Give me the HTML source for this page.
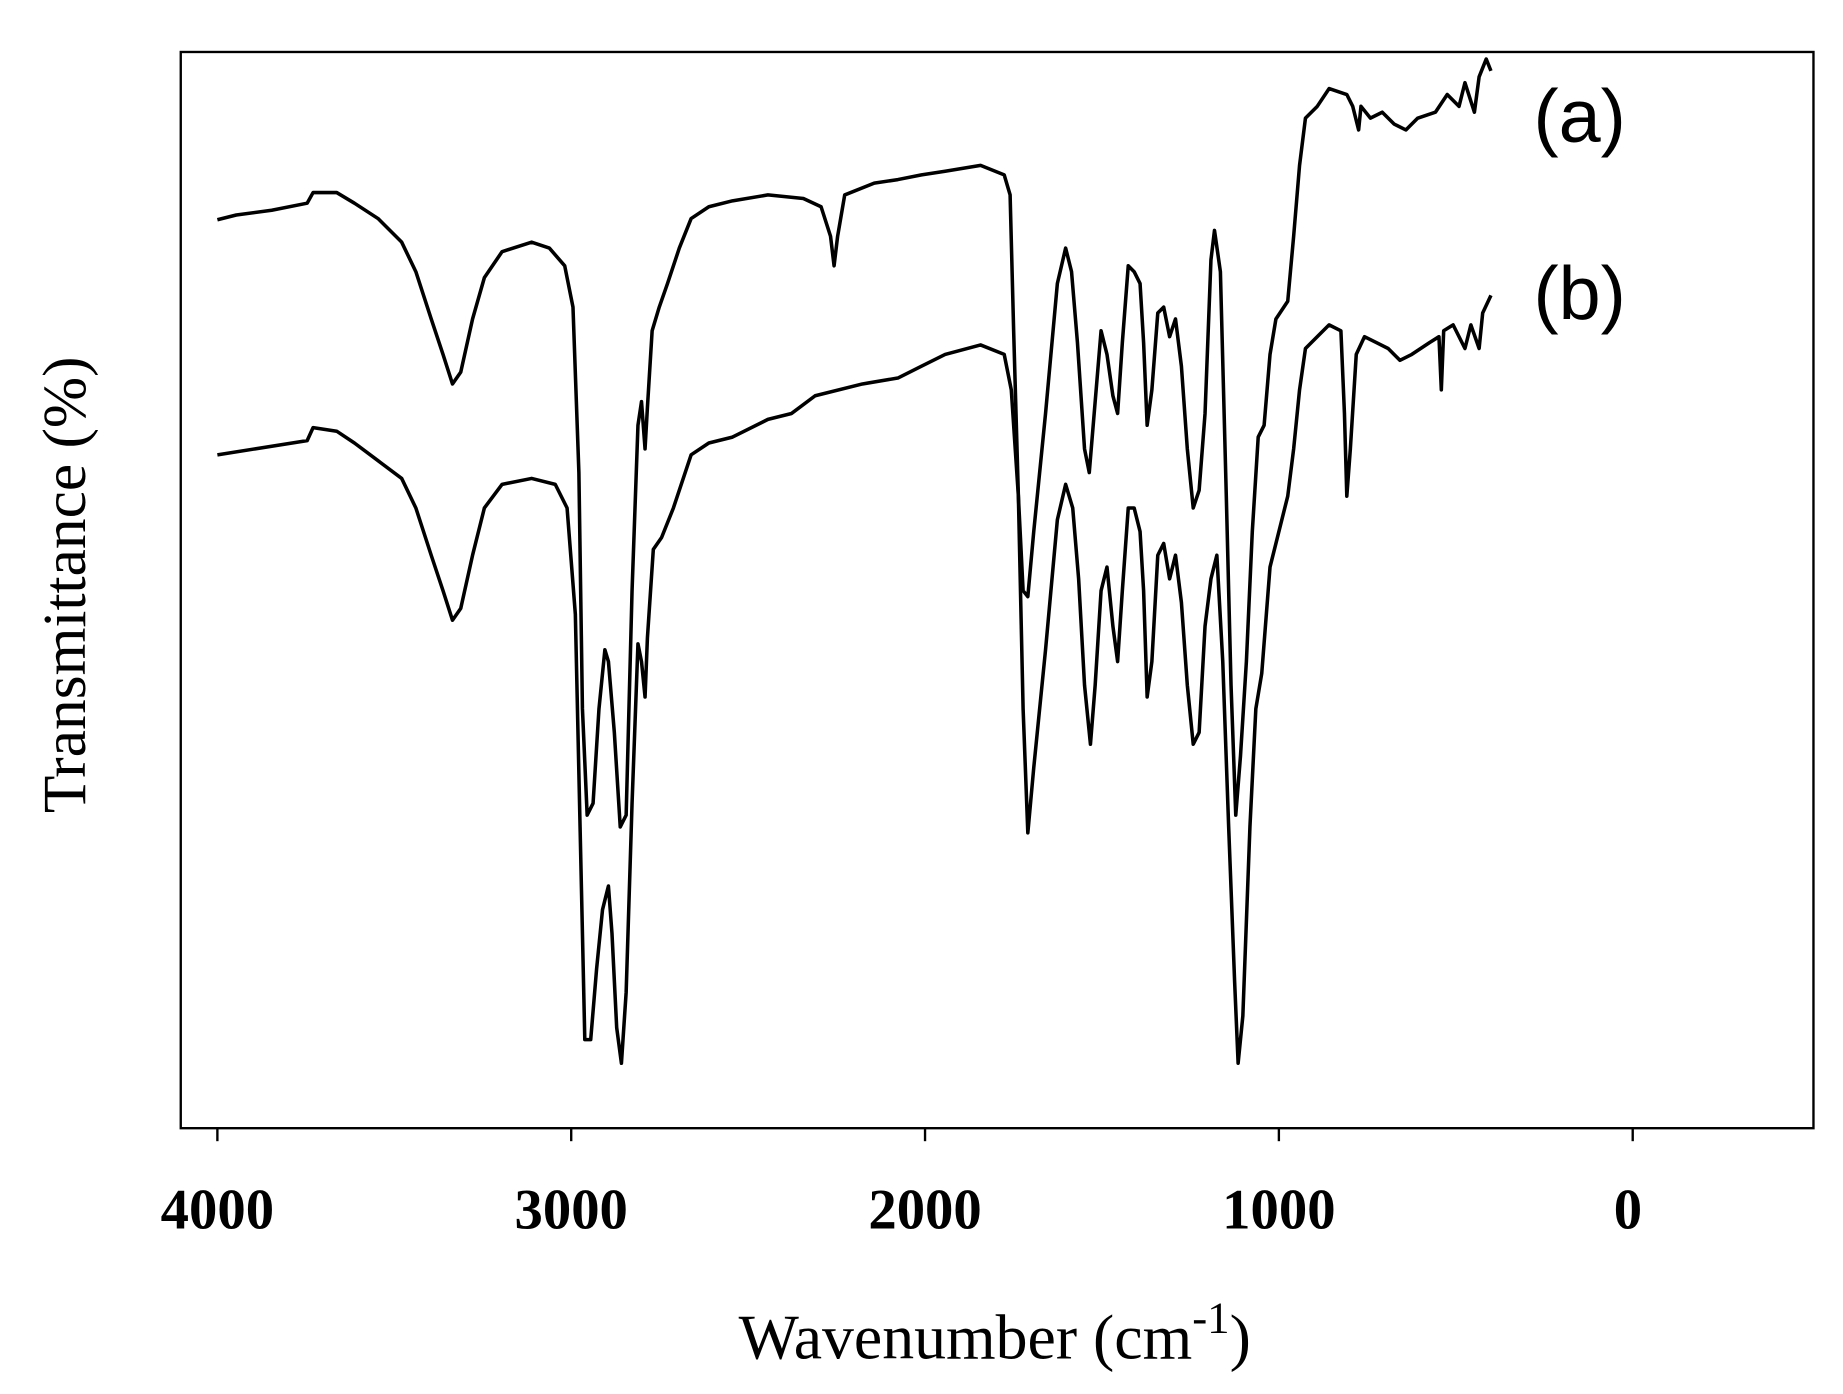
<!DOCTYPE html>
<html><head><meta charset="utf-8"><style>
html,body{margin:0;padding:0;background:#fff;}
svg{display:block;}
</style></head><body>
<svg width="1843" height="1394" viewBox="0 0 1560 1180" preserveAspectRatio="none" xmlns="http://www.w3.org/2000/svg">
<rect x="0" y="0" width="1560" height="1180" fill="#fff"/>
<rect x="153" y="44" width="1382" height="911" fill="none" stroke="#000" stroke-width="2"/>
<g stroke="#000" stroke-width="2">
<line x1="184" y1="955" x2="184" y2="966"/>
<line x1="483.5" y1="955" x2="483.5" y2="966"/>
<line x1="783" y1="955" x2="783" y2="966"/>
<line x1="1082.5" y1="955" x2="1082.5" y2="966"/>
<line x1="1382" y1="955" x2="1382" y2="966"/>
</g>
<g font-family="Liberation Serif, serif" font-weight="bold" font-size="48" text-anchor="middle" fill="#000">
<text x="184" y="1040">4000</text>
<text x="483.5" y="1040">3000</text>
<text x="783" y="1040">2000</text>
<text x="1082.5" y="1040">1000</text>
<text x="1378" y="1040">0</text>
</g>
<text x="842" y="1150" font-family="Liberation Serif, serif" font-size="54" text-anchor="middle">Wavenumber (cm<tspan dy="-22" font-size="38">-1</tspan><tspan dy="22">)</tspan></text>
<text transform="translate(72,495) rotate(-90)" font-family="Liberation Serif, serif" font-size="52" text-anchor="middle">Transmittance (%)</text>
<g font-family="Liberation Sans, sans-serif" font-size="64" fill="#000">
<text x="1298" y="120">(a)</text>
<text x="1298" y="270">(b)</text>
</g>
<g fill="none" stroke="#000" stroke-width="3" stroke-linejoin="round">
<polyline points="184,186 200,182 230,178 260,172 265,163 285,163 300,172 320,185 340,205 352,230 365,270 375,300 383,325 390,315 400,270 410,235 425,213 450,205 465,210 478,225 485,260 490,400 493,600 497,690 502,680 507,600 512,550 515,560 520,620 525,700 530,690 535,500 540,360 543,340 546,380 548,345 552,280 558,260 565,240 575,210 585,185 600,175 620,170 650,165 680,168 695,175 703,200 706,225 709,200 715,165 740,155 760,152 780,148 800,145 830,140 850,148 855,165 858,280 862,420 866,500 870,505 875,450 885,350 895,240 902,210 907,230 912,290 918,380 922,400 927,340 932,280 937,300 942,335 946,350 950,290 955,225 960,230 965,240 968,290 971,360 975,330 980,265 985,260 990,285 995,270 1000,310 1005,380 1010,430 1015,415 1020,350 1025,220 1028,195 1033,230 1038,420 1042,580 1046,690 1050,640 1055,560 1060,450 1065,370 1070,360 1075,300 1080,270 1090,255 1095,200 1100,140 1105,100 1115,90 1125,75 1140,80 1145,90 1150,110 1152,90 1160,100 1170,95 1180,105 1190,110 1200,100 1215,95 1225,80 1235,90 1240,70 1248,95 1252,65 1258,50 1262,60"/>
<polyline points="184,385 260,373 265,362 285,365 300,375 320,390 340,405 352,430 365,470 375,500 383,525 390,515 400,470 410,430 425,410 450,405 470,410 480,430 487,520 491,700 495,880 500,880 505,820 510,770 515,750 518,790 522,870 526,900 530,840 535,680 540,545 543,560 546,590 548,540 553,465 560,455 570,430 585,385 600,375 620,370 650,355 670,350 690,335 730,325 760,320 780,310 800,300 830,292 850,300 856,330 862,420 866,600 870,705 875,650 885,550 895,440 902,410 908,430 913,490 918,580 923,630 927,580 932,500 937,480 942,530 946,560 950,500 955,430 960,430 965,450 968,500 971,590 975,560 980,470 985,460 990,490 995,470 1000,510 1005,580 1010,630 1015,620 1020,530 1025,490 1030,470 1035,560 1040,700 1045,830 1048,900 1052,860 1058,700 1063,600 1068,570 1075,480 1080,460 1090,420 1095,380 1100,330 1105,295 1120,280 1125,275 1135,280 1138,350 1140,420 1143,380 1148,300 1155,285 1165,290 1175,295 1185,305 1195,300 1210,290 1218,285 1220,330 1222,280 1230,275 1240,295 1245,275 1252,295 1255,265 1262,250"/>
</g>
</svg>
</body></html>
